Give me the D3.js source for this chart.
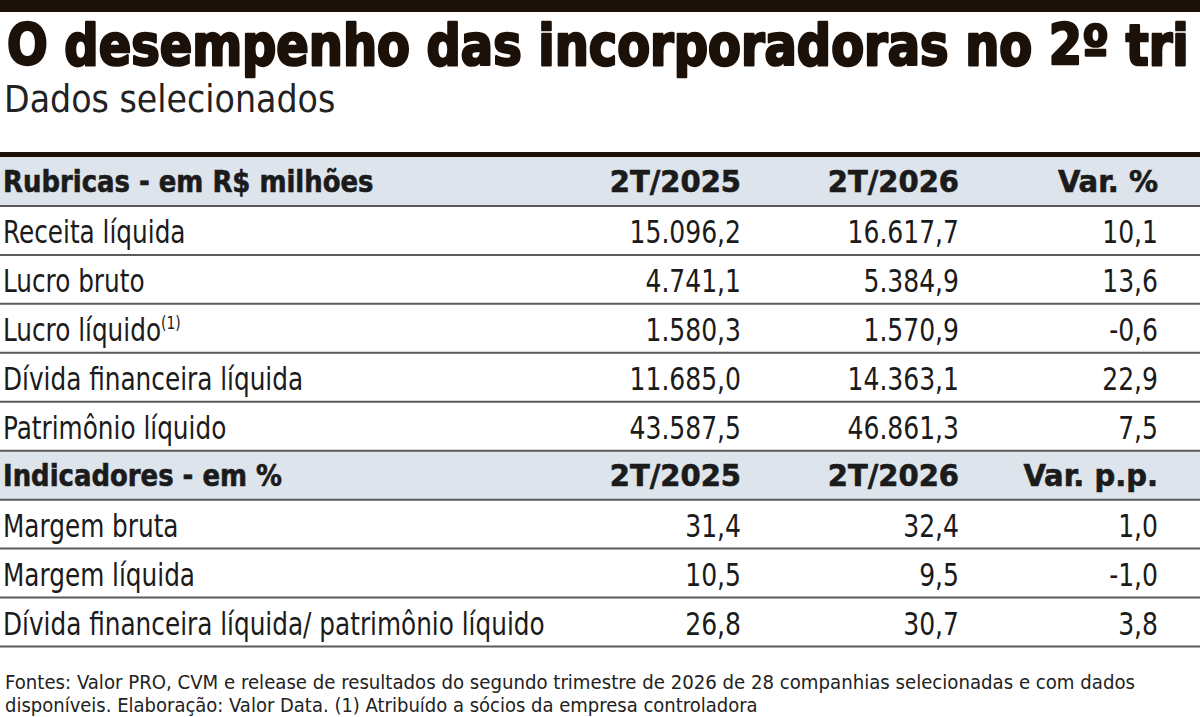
<!DOCTYPE html>
<html>
<head>
<meta charset="utf-8">
<script src="https://cdn.jsdelivr.net/npm/d3@7/dist/d3.min.js"></script>
<style>
  html, body { margin: 0; padding: 0; background: #fff; }
  svg { display: block; }
</style>
</head>
<body>
<svg id="chart" width="1200" height="717"></svg>
<script>
// ---------- DATA ----------
const title = "O desempenho das incorporadoras no 2º tri";
const subtitle = "Dados selecionados";
const periods = ["2T/2025", "2T/2026"];

const section1Title = "Rubricas - em R$ milhões";
const section1VarLabel = "Var. %";
const rubricas = ["Receita líquida", "Lucro bruto", "Lucro líquido", "Dívida financeira líquida", "Patrimônio líquido"];
const rubricasNote = [null, null, "(1)", null, null];
const rub2025 = [15096.2, 4741.1, 1580.3, 11685.0, 43587.5];
const rub2026 = [16617.7, 5384.9, 1570.9, 14363.1, 46861.3];
const rubVar = [10.1, 13.6, -0.6, 22.9, 7.5];

const section2Title = "Indicadores - em %";
const section2VarLabel = "Var. p.p.";
const indicadores = ["Margem bruta", "Margem líquida", "Dívida financeira líquida/ patrimônio líquido"];
const ind2025 = [31.4, 10.5, 26.8];
const ind2026 = [32.4, 9.5, 30.7];
const indVar = [1.0, -1.0, 3.8];

const footnotes = [
  "Fontes: Valor PRO, CVM e release de resultados do segundo trimestre de 2026 de 28 companhias selecionadas e com dados",
  "disponíveis. Elaboração: Valor Data.  (1) Atribuído a sócios da empresa controladora"
];

// ---------- BUILD ROWS ----------
const rows = [];
rows.push({type: "header", label: section1Title, cells: [periods[0], periods[1], section1VarLabel]});
rubricas.forEach((r, i) => rows.push({type: "data", label: r, note: rubricasNote[i], values: [rub2025[i], rub2026[i], rubVar[i]]}));
rows.push({type: "header", label: section2Title, cells: [periods[0], periods[1], section2VarLabel]});
indicadores.forEach((r, i) => rows.push({type: "data", label: r, note: null, values: [ind2025[i], ind2026[i], indVar[i]]}));

// ---------- SETUP ----------
const locale = d3.formatLocale({decimal: ",", thousands: ".", grouping: [3], currency: ["R$", ""], minus: "-"});
const fmt = locale.format(",.1f");

const W = 1200;
const svg = d3.select("#chart");
const condensed = "'Liberation Sans Narrow', 'DejaVu Sans Condensed', 'Roboto Condensed', 'Liberation Sans', sans-serif";
const ink = "#1b1b1b";
const dark = "#1c1109";

const y = d3.scaleBand().domain(d3.range(rows.length)).range([157, 646.5]).paddingInner(0).paddingOuter(0);
const colX = d3.scaleOrdinal().domain([0, 1, 2]).range([741, 959, 1158]);

// horizontal squeeze factors (style)
const sxLabel = 0.86, sxHeadLabel = 0.93, sxNum = 0.87, sxHeadCell = 1.04;
const fsBody = 32;

// top bar
svg.append("rect").attr("x", 0).attr("y", 0).attr("width", W).attr("height", 12).attr("fill", dark);

// title: fitted to width via a horizontal scale
const titleText = svg.append("text")
  .attr("x", 0).attr("y", 0)
  .attr("font-family", condensed)
  .attr("font-weight", 700)
  .attr("font-size", 56)
  .attr("fill", dark)
  .style("stroke", dark).style("stroke-width", 2.4).style("stroke-linejoin", "round")
  .text(title);
const natW = titleText.node().getComputedTextLength();
const titleW = 1182;
titleText.attr("transform", `translate(7,65) scale(${titleW / natW},1)`);

// subtitle
svg.append("text")
  .attr("x", 4).attr("y", 112)
  .attr("font-family", condensed)
  .attr("font-size", 37)
  .attr("fill", "#222")
  .text(subtitle);

// header bands
const headerIdx = rows.map((r, i) => r.type === "header" ? i : -1).filter(i => i >= 0);
svg.selectAll("rect.band").data(headerIdx).join("rect")
  .attr("class", "band")
  .attr("x", 0).attr("width", W)
  .attr("y", d => y(d)).attr("height", y.bandwidth())
  .attr("fill", "#dde4eb");

// row separators
const sepY = d => (d < rows.length ? y(d) : y(rows.length - 1) + y.bandwidth());
svg.selectAll("line.sep").data(d3.range(1, rows.length + 1)).join("line")
  .attr("class", "sep")
  .attr("x1", 0).attr("x2", W)
  .attr("y1", sepY).attr("y2", sepY)
  .attr("stroke", "#5a5a5a").attr("stroke-width", 2);

// thick top rule
svg.append("rect").attr("x", 0).attr("y", 152).attr("width", W).attr("height", 5).attr("fill", dark);

// row text
const g = svg.selectAll("g.row").data(rows).join("g")
  .attr("class", "row")
  .attr("transform", (d, i) => `translate(0, ${y(i) + y.bandwidth() / 2 + (d.type === "header" ? 11 : 13)})`);

const labels = g.append("text")
  .attr("transform", d => `translate(3,0) scale(${d.type === "header" ? sxHeadLabel : sxLabel},1)`)
  .attr("font-family", condensed)
  .attr("font-size", d => d.type === "header" ? 31 : fsBody)
  .attr("font-weight", d => d.type === "header" ? 700 : 400)
  .attr("fill", ink)
  .style("stroke", d => d.type === "header" ? ink : "none")
  .style("stroke-width", d => d.type === "header" ? 0.6 : 0);
labels.append("tspan").text(d => d.label);
labels.filter(d => d.note).append("tspan")
  .attr("font-size", 18).attr("dy", -12).text(d => d.note);

g.each(function(d) {
  const sel = d3.select(this);
  const cells = d.type === "header" ? d.cells : d.values.map(fmt);
  const sx = d.type === "header" ? sxHeadCell : sxNum;
  sel.selectAll("text.cell").data(cells).join("text")
    .attr("class", "cell")
    .attr("transform", (c, j) => `translate(${colX(j)},0) scale(${sx},1)`)
    .attr("text-anchor", "end")
    .attr("font-family", condensed)
    .attr("font-size", d.type === "header" ? 31 : fsBody)
    .attr("font-weight", d.type === "header" ? 700 : 400)
    .attr("fill", ink)
    .style("stroke", d.type === "header" ? ink : "none")
    .style("stroke-width", d.type === "header" ? 0.6 : 0)
    .text(c => c);
});

// footnotes
svg.selectAll("text.foot").data(footnotes).join("text")
  .attr("class", "foot")
  .attr("x", 5)
  .attr("y", (d, i) => 689 + i * 23)
  .attr("font-family", condensed)
  .attr("font-size", 20)
  .attr("fill", "#222")
  .attr("textLength", (d, i) => i === 0 ? 1130 : null)
  .attr("lengthAdjust", "spacingAndGlyphs")
  .text(d => d);
</script>
</body>
</html>
